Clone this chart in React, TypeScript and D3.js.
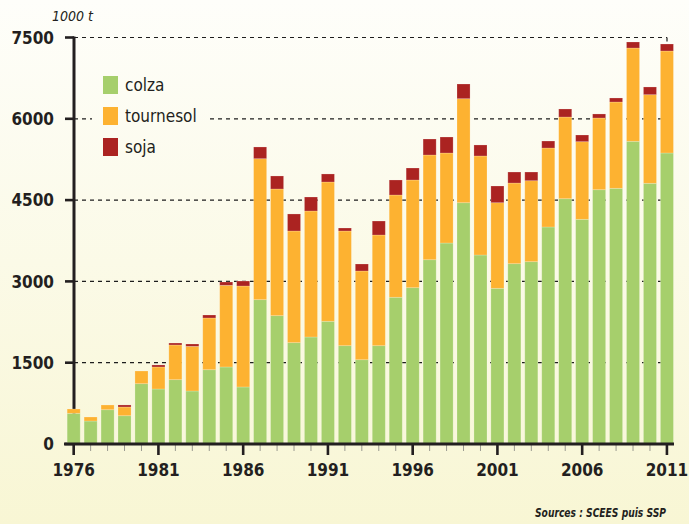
import React from 'react';
import * as d3 from 'd3';

// années de récolte
const years = d3.range(1976, 2012).map(String);

// production en milliers de tonnes
const colza = [566, 424, 633, 522, 1113, 1015, 1187, 978, 1371, 1421, 1052, 2663,
    2368, 1870, 1974, 2264, 1814, 1555, 1814, 2707, 2884, 3400, 3708, 4452,
    3487, 2872, 3327, 3364, 4004, 4526, 4145, 4692, 4717, 5585, 4810, 5369];
const tournesol = [80, 74, 87, 161, 234, 406, 640, 824, 954, 1507, 1863, 2601,
    2337, 2060, 2325, 2570, 2116, 1637, 2042, 1887, 1987, 1932, 1661, 1919,
    1827, 1580, 1488, 1494, 1457, 1507, 1433, 1323, 1593, 1721, 1635, 1882];
const soja = [0, 0, 0, 37, 0, 37, 36, 43, 55, 61, 92, 216,
    240, 314, 258, 148, 55, 129, 258, 277, 221, 295, 295, 271,
    203, 308, 203, 160, 129, 148, 123, 74, 74, 111, 142, 129];

const series = ['colza', 'tournesol', 'soja'];
const colors = ['#a6cf6c', '#fdb231', '#ab2321'];
const yTicks = [0, 1500, 3000, 4500, 6000, 7500];
const xLabels = ['1976', '1981', '1986', '1991', '1996', '2001', '2006', '2011'];

const width = 689;
const height = 524;
const font = '"DejaVu Sans Condensed", "DejaVu Sans", sans-serif';

export default function App() {
    const rows = years.map((yr, i) => ({ year: yr, colza: colza[i], tournesol: tournesol[i], soja: soja[i] }));
    const stacked = d3.stack().keys(series)(rows);

    const x = d3.scaleBand().domain(years).range([65.2, 675.4]).paddingInner(0.23).paddingOuter(0.115);
    const y = d3.scaleLinear().domain([0, 7500]).range([444, 37.5]);
    const axisX = 74;
    const gridEnd = 667;

    return (
        <svg width={width} height={height} style={{ position: 'fixed', left: 0, top: 0, display: 'block' }}>
            <defs>
                <linearGradient id="bg" gradientUnits="userSpaceOnUse" x1="0" y1="0" x2="0" y2={height}>
                    <stop offset="0" stopColor="#fefefa" />
                    <stop offset="1" stopColor="#f8f6d4" />
                </linearGradient>
            </defs>
            <rect width={width} height={height} fill="url(#bg)" />

            {/* lignes de grille */}
            {yTicks.filter(t => t > 0).map(t => (
                <line key={t} x1={axisX} x2={gridEnd} y1={y(t)} y2={y(t)}
                    stroke="#1e1e1e" strokeWidth={1.2} strokeDasharray="4,4" />
            ))}
            <line x1={gridEnd} x2={gridEnd} y1={y(7500)} y2={y(7500) + 4} stroke="#1e1e1e" strokeWidth={1.2} />

            {/* axe vertical */}
            <line x1={axisX} x2={axisX} y1={y(7500) - 1} y2={y(0)} stroke="#231f20" strokeWidth={3} />
            {yTicks.map(t => (
                <g key={t}>
                    <line x1={axisX - 9} x2={axisX} y1={y(t)} y2={y(t)} stroke="#231f20" strokeWidth={2.6} />
                    <text x={54} y={y(t)} dy="0.36em" textAnchor="end" fontFamily={font}
                        fontWeight="bold" fontSize={17} fill="#231f20">{t}</text>
                </g>
            ))}
            <text x={52} y={21} fontFamily={font} fontStyle="italic" fontSize={14} fill="#231f20">1000 t</text>

            {/* barres empilées */}
            {stacked.map((s, k) => (
                <g key={s.key} fill={colors[k]}>
                    {s.map((d, i) => (
                        <rect key={years[i]} x={x(years[i])} width={x.bandwidth()}
                            y={y(d[1])} height={Math.max(0, y(d[0]) - y(d[1]))}
                            stroke="#ffffff" strokeOpacity={0.25} strokeWidth={0.8} />
                    ))}
                </g>
            ))}

            {/* axe horizontal */}
            {years.map((yr, i) => {
                const cx = x(yr) + x.bandwidth() / 2;
                const major = xLabels.includes(yr);
                return major ? (
                    <g key={yr}>
                        <line x1={cx} x2={cx} y1={y(0)} y2={y(0) + 11} stroke="#231f20" strokeWidth={2.6} />
                        <text x={cx} y={476} textAnchor="middle" fontFamily={font} fontWeight="bold"
                            fontSize={17} fill="#231f20">{yr}</text>
                    </g>
                ) : (
                    <line key={yr} x1={cx} x2={cx} y1={y(0)} y2={y(0) + 7} stroke="#9a9a90" strokeWidth={1} />
                );
            })}
            <line x1={64} x2={674} y1={y(0)} y2={y(0)} stroke="#231f20" strokeWidth={3} />

            {/* légende, avec un fond qui masque la grille */}
            <rect x={92} y={66} width={118} height={100} fill="url(#bg)" />
            {series.map((name, k) => (
                <g key={name} transform={`translate(103,${76 + k * 31})`}>
                    <rect width={15} height={18} fill={colors[k]} />
                    <text x={22} y={14.5} fontFamily={font} fontSize={17} fill="#231f20">{name}</text>
                </g>
            ))}

            <text x={666} y={517} textAnchor="end" fontFamily={font} fontStyle="italic" fontWeight="bold"
                fontSize={11.5} textLength={131} lengthAdjust="spacingAndGlyphs" fill="#231f20">Sources : SCEES puis SSP</text>
        </svg>
    );
}
